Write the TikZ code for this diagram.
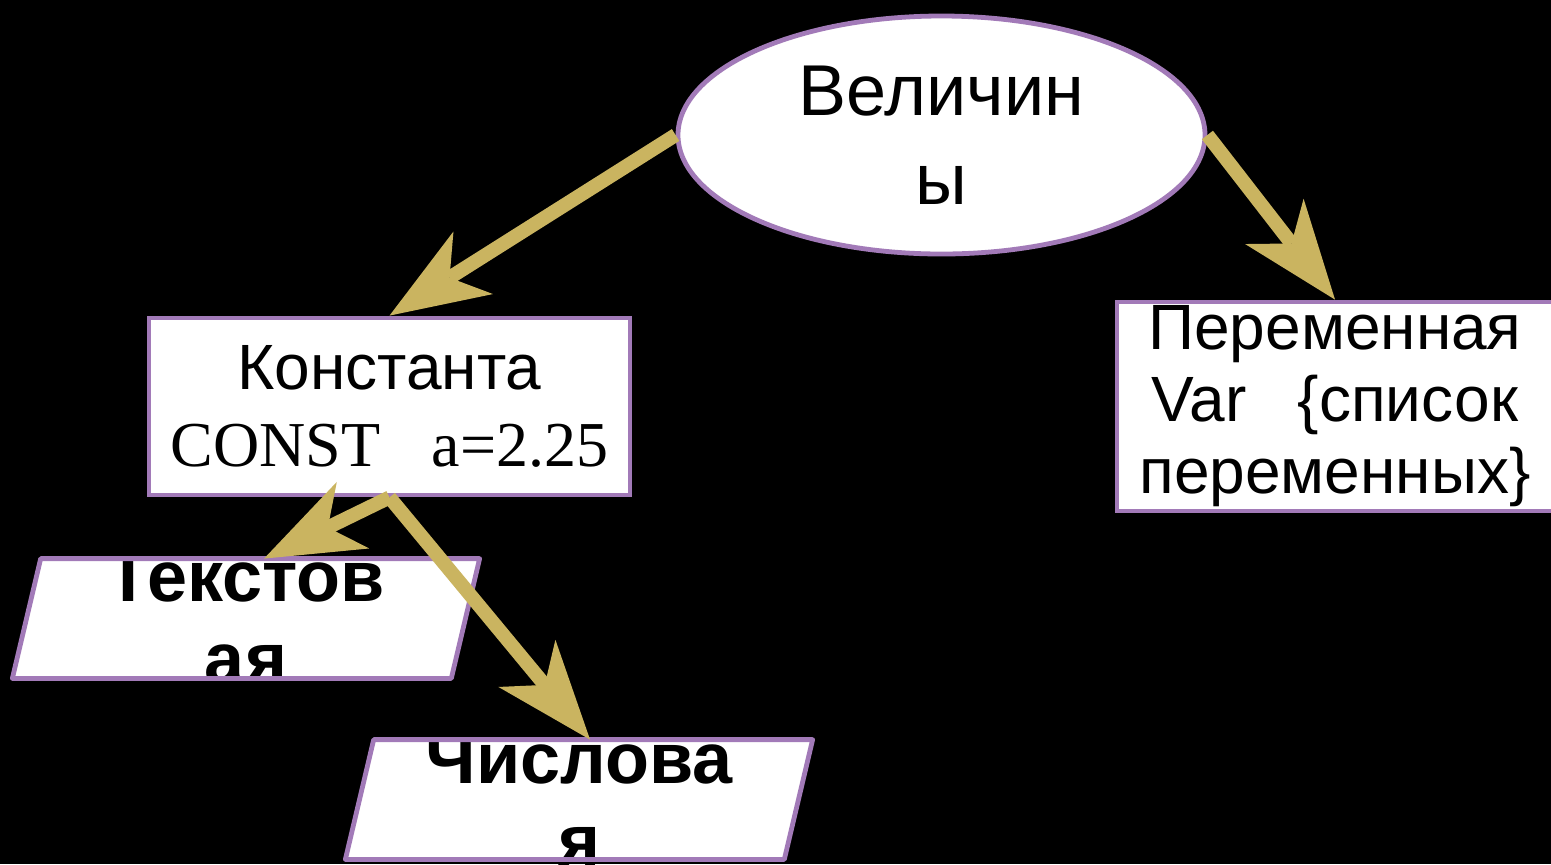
\documentclass[tikz,border=0pt]{standalone}
\usepackage{fontspec}
\setmainfont{Liberation Sans}
\newfontfamily\timesfont{Liberation Serif}
\usepackage{tikz}
\usetikzlibrary{arrows.meta,shapes.geometric,positioning}
\definecolor{lilac}{RGB}{162,122,184}
\definecolor{gold}{RGB}{202,180,96}
\tikzset{
  oval/.style={ellipse,draw=lilac,line width=2.4pt,fill=white,inner sep=0pt,
    minimum width=263.5pt,minimum height=119pt},
  box/.style={rectangle,draw=lilac,line width=2.4pt,fill=white,inner sep=0pt},
  para/.style={trapezium,trapezium left angle=76.7,trapezium right angle=103.3,
    fill=white,inner sep=0pt,text width=205pt,text height=29.75pt,text depth=29.75pt},
  rim/.style={draw=lilac,line width=2.4pt,line join=round},
  txt/.style={align=center,inner sep=0pt}
}
\tikzstyle{goldarrow} = [draw=gold,line width=7pt,
  -{Stealth[length=49.5pt,width=37pt,inset=14pt,line width=0pt,fill=gold]}]

\begin{document}
\begin{tikzpicture}[x=0.5pt,y=-0.5pt]
  \fill[black] (0,0) rectangle (1551,864);
  \useasboundingbox (0,0) rectangle (1551,864);
  \node[oval,txt,font=\fontsize{36}{44.5}\selectfont] (vel) at (941.5,135) {Величин\\ы};
  \node[box,txt,minimum width=240.5pt,minimum height=88.5pt,
    font=\fontsize{32}{38.5}\selectfont] (konst) at (389.5,406.5)
    {Константа\\{\timesfont CONST\hspace{0.8em}a=2.25}};
  \node[box,txt,minimum width=218pt,minimum height=104.5pt,
    font=\fontsize{32}{36}\selectfont] (perem) at (1335,406.5)
    {Переменная\\Var\hspace{0.8em}\{список\\переменных\}};
  \node[para] (tekst) at (246,618.5) {};
  \node[para] (chisl) at (579,799.5) {};
  \node[txt,font=\bfseries\fontsize{36}{41}\selectfont] (tekstlbl) at (tekst) {Текстов\\ая};
  \node[txt,font=\bfseries\fontsize{36}{41}\selectfont] (chisllbl) at (chisl) {Числова\\я};
  % borders over the text
  \foreach \p in {tekst,chisl}
    \draw[rim] (\p.bottom left corner) -- (\p.top left corner)
      -- (\p.top right corner) -- (\p.bottom right corner) -- cycle;
  \draw[goldarrow] (vel.west) -- (konst.north);
  \draw[goldarrow] (vel.east) -- (perem.north);
  \draw[goldarrow] (konst.south) -- ([xshift=9pt]tekst.north);
  \draw[goldarrow] (konst.south) -- ([xshift=5.5pt]chisl.north);
\end{tikzpicture}
\end{document}
